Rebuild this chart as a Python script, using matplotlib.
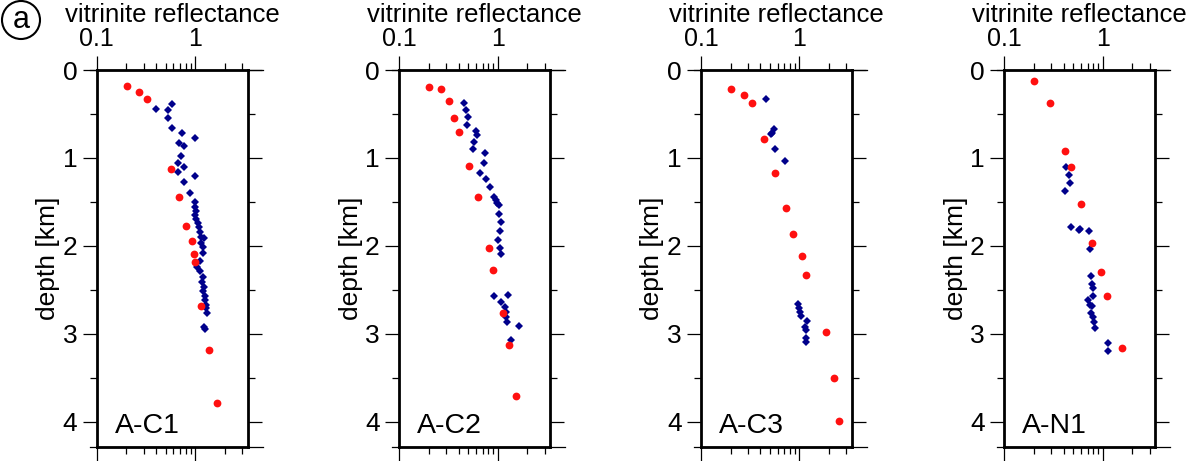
import matplotlib
matplotlib.use("Agg")
import matplotlib.pyplot as plt
from matplotlib.patches import Ellipse
from matplotlib.ticker import FixedLocator, LogLocator, NullFormatter, MultipleLocator

plt.rcParams['font.family'] = ['Liberation Sans', 'DejaVu Sans']

wells = ["A-C1", "A-C2", "A-C3", "A-N1"]

# red circles: measured vitrinite reflectance
ac1_red_ro = [0.203, 0.269, 0.325, 0.568, 0.684, 0.80, 0.93, 0.98, 1.0, 1.15, 1.38, 1.65]
ac1_red_depth = [0.18, 0.254, 0.334, 1.126, 1.45, 1.77, 1.95, 2.09, 2.19, 2.68, 3.19, 3.79]
# blue diamonds
ac1_blue_ro = [0.582, 0.399, 0.533, 0.525, 0.582, 0.73, 1.007, 0.691, 0.772, 0.726, 0.67, 0.772,
               0.665, 1.0, 0.772, 0.88, 0.99, 1.0, 1.01, 1.0, 1.03, 1.07, 1.09, 1.12, 1.15, 1.22,
               1.14, 1.19, 1.19, 1.12, 1.04, 1.12, 1.21, 1.17, 1.22, 1.21, 1.26, 1.26, 1.29, 1.30,
               1.32, 1.22, 1.26]
ac1_blue_depth = [0.387, 0.444, 0.455, 0.55, 0.656, 0.72, 0.777, 0.834, 0.861, 0.978, 1.062, 1.10,
                  1.156, 1.206, 1.278, 1.40, 1.50, 1.555, 1.60, 1.65, 1.70, 1.745, 1.79, 1.84, 1.90,
                  1.91, 1.97, 2.01, 2.085, 2.17, 2.24, 2.29, 2.35, 2.41, 2.47, 2.52, 2.57, 2.62, 2.67,
                  2.71, 2.76, 2.92, 2.95]

ac2_red_ro = [0.202, 0.264, 0.321, 0.356, 0.403, 0.514, 0.63, 0.82, 0.89, 1.14, 1.29, 1.54]
ac2_red_depth = [0.193, 0.22, 0.353, 0.546, 0.705, 1.096, 1.44, 2.02, 2.28, 2.76, 3.13, 3.71]
ac2_blue_ro = [0.45, 0.475, 0.502, 0.486, 0.597, 0.61, 0.578, 0.56, 0.748, 0.72, 0.665, 0.755,
               0.828, 0.91, 0.95, 0.99, 1.03, 1.04, 1.09, 1.06, 1.0, 1.05, 1.08, 0.91, 1.26, 1.08,
               1.18, 1.22, 1.22, 1.25, 1.66, 1.37]
ac2_blue_depth = [0.379, 0.455, 0.538, 0.622, 0.698, 0.74, 0.815, 0.895, 0.94, 1.058, 1.175, 1.24,
                  1.335, 1.44, 1.48, 1.517, 1.54, 1.64, 1.73, 1.83, 1.93, 2.02, 2.09, 2.57, 2.56,
                  2.64, 2.70, 2.75, 2.81, 2.87, 2.91, 3.07]

ac3_red_ro = [0.203, 0.276, 0.33, 0.44, 0.57, 0.726, 0.862, 1.065, 1.17, 1.88, 2.22, 2.51]
ac3_red_depth = [0.22, 0.284, 0.375, 0.789, 1.175, 1.566, 1.862, 2.116, 2.332, 2.984, 3.503, 3.992]
ac3_blue_ro = [0.455, 0.557, 0.53, 0.51, 0.57, 0.72, 0.96, 1.0, 1.01, 1.04, 1.19, 1.14, 1.16,
               1.16, 1.16]
ac3_blue_depth = [0.334, 0.675, 0.713, 0.728, 0.895, 1.035, 2.66, 2.71, 2.756, 2.8, 2.855, 2.92,
                  2.957, 3.05, 3.09]

an1_red_ro = [0.2, 0.294, 0.418, 0.478, 0.6, 0.771, 0.96, 1.117, 1.55]
an1_red_depth = [0.125, 0.372, 0.918, 1.10, 1.52, 1.964, 2.301, 2.567, 3.158]
an1_blue_ro = [0.425, 0.45, 0.46, 0.41, 0.48, 0.57, 0.59, 0.73, 0.742, 0.754, 0.771, 0.80, 0.80,
               0.708, 0.742, 0.786, 0.754, 0.80, 0.81, 0.83, 1.14, 1.14]
an1_blue_depth = [1.107, 1.195, 1.29, 1.373, 1.79, 1.82, 1.805, 1.835, 2.032, 2.343, 2.438, 2.483,
                  2.57, 2.62, 2.673, 2.69, 2.768, 2.81, 2.87, 2.94, 3.11, 3.2]

red_ro = [ac1_red_ro, ac2_red_ro, ac3_red_ro, an1_red_ro]
red_depth = [ac1_red_depth, ac2_red_depth, ac3_red_depth, an1_red_depth]
blue_ro = [ac1_blue_ro, ac2_blue_ro, ac3_blue_ro, an1_blue_ro]
blue_depth = [ac1_blue_depth, ac2_blue_depth, ac3_blue_depth, an1_blue_depth]

W, H = 1191, 461
fig = plt.figure(figsize=(W / 100, H / 100), dpi=100)

lefts = [96.7, 399.3, 701.0, 1004.3]
ax_w, ax_top, ax_bot = 150.8, 70.0, 447.0

for i, name in enumerate(wells):
    ax = fig.add_axes([lefts[i] / W, (H - ax_bot) / H, ax_w / W, (ax_bot - ax_top) / H])
    ax.plot(blue_ro[i], blue_depth[i], 'D', color='#00008b', ms=3.6, mew=0, zorder=3)
    ax.plot(red_ro[i], red_depth[i], 'o', color='#ff1010', ms=5.6, mew=0, zorder=4)

    ax.set_xscale('log')
    ax.set_xlim(0.1, 3.4)
    ax.set_ylim(4.29, 0)

    ax.xaxis.set_major_locator(FixedLocator([0.1, 1]))
    ax.set_xticklabels(['0.1', '1'])
    ax.xaxis.set_minor_locator(LogLocator(subs=range(2, 10)))
    ax.xaxis.set_minor_formatter(NullFormatter())
    ax.yaxis.set_major_locator(MultipleLocator(1))
    ax.yaxis.set_minor_locator(MultipleLocator(0.5))

    ax.tick_params(which='both', direction='out', top=True, bottom=True, left=True, right=True,
                   labeltop=True, labelbottom=False, labelleft=True, labelright=False,
                   width=0.9, color='k')
    ax.tick_params(which='major', length=10)
    ax.tick_params(which='minor', length=5)
    ax.tick_params(axis='x', which='major', labelsize=18, pad=3.5)
    ax.tick_params(axis='y', which='major', labelsize=19, pad=4)

    for sp in ax.spines.values():
        sp.set_linewidth(2.0)

    # thin axis lines running past the frame
    for yy in (1, 0):
        ax.plot([-7 / ax_w, 1 + 15 / ax_w], [yy, yy], transform=ax.transAxes,
                color='k', lw=0.9, clip_on=False)

    ax.text(0.5, 1 + 48.3 / (ax_bot - ax_top), 'vitrinite reflectance', transform=ax.transAxes,
            ha='center', va='baseline', fontsize=18.5)
    ax.text(-48.5 / ax_w, 0.5, 'depth [km]', transform=ax.transAxes, rotation=90,
            ha='center', va='center', fontsize=19)
    ax.text(0.12, 0.037, name, transform=ax.transAxes, ha='left', va='baseline', fontsize=20.5)

fig.patches.append(Ellipse((21 / W, 1 - 20 / H), 38 / W, 38 / H, transform=fig.transFigure,
                           fill=False, ec='k', lw=1.5))
fig.text(21 / W, 1 - 20.5 / H, 'a', ha='center', va='center', fontsize=22)

fig.savefig('out.png', dpi=100)
